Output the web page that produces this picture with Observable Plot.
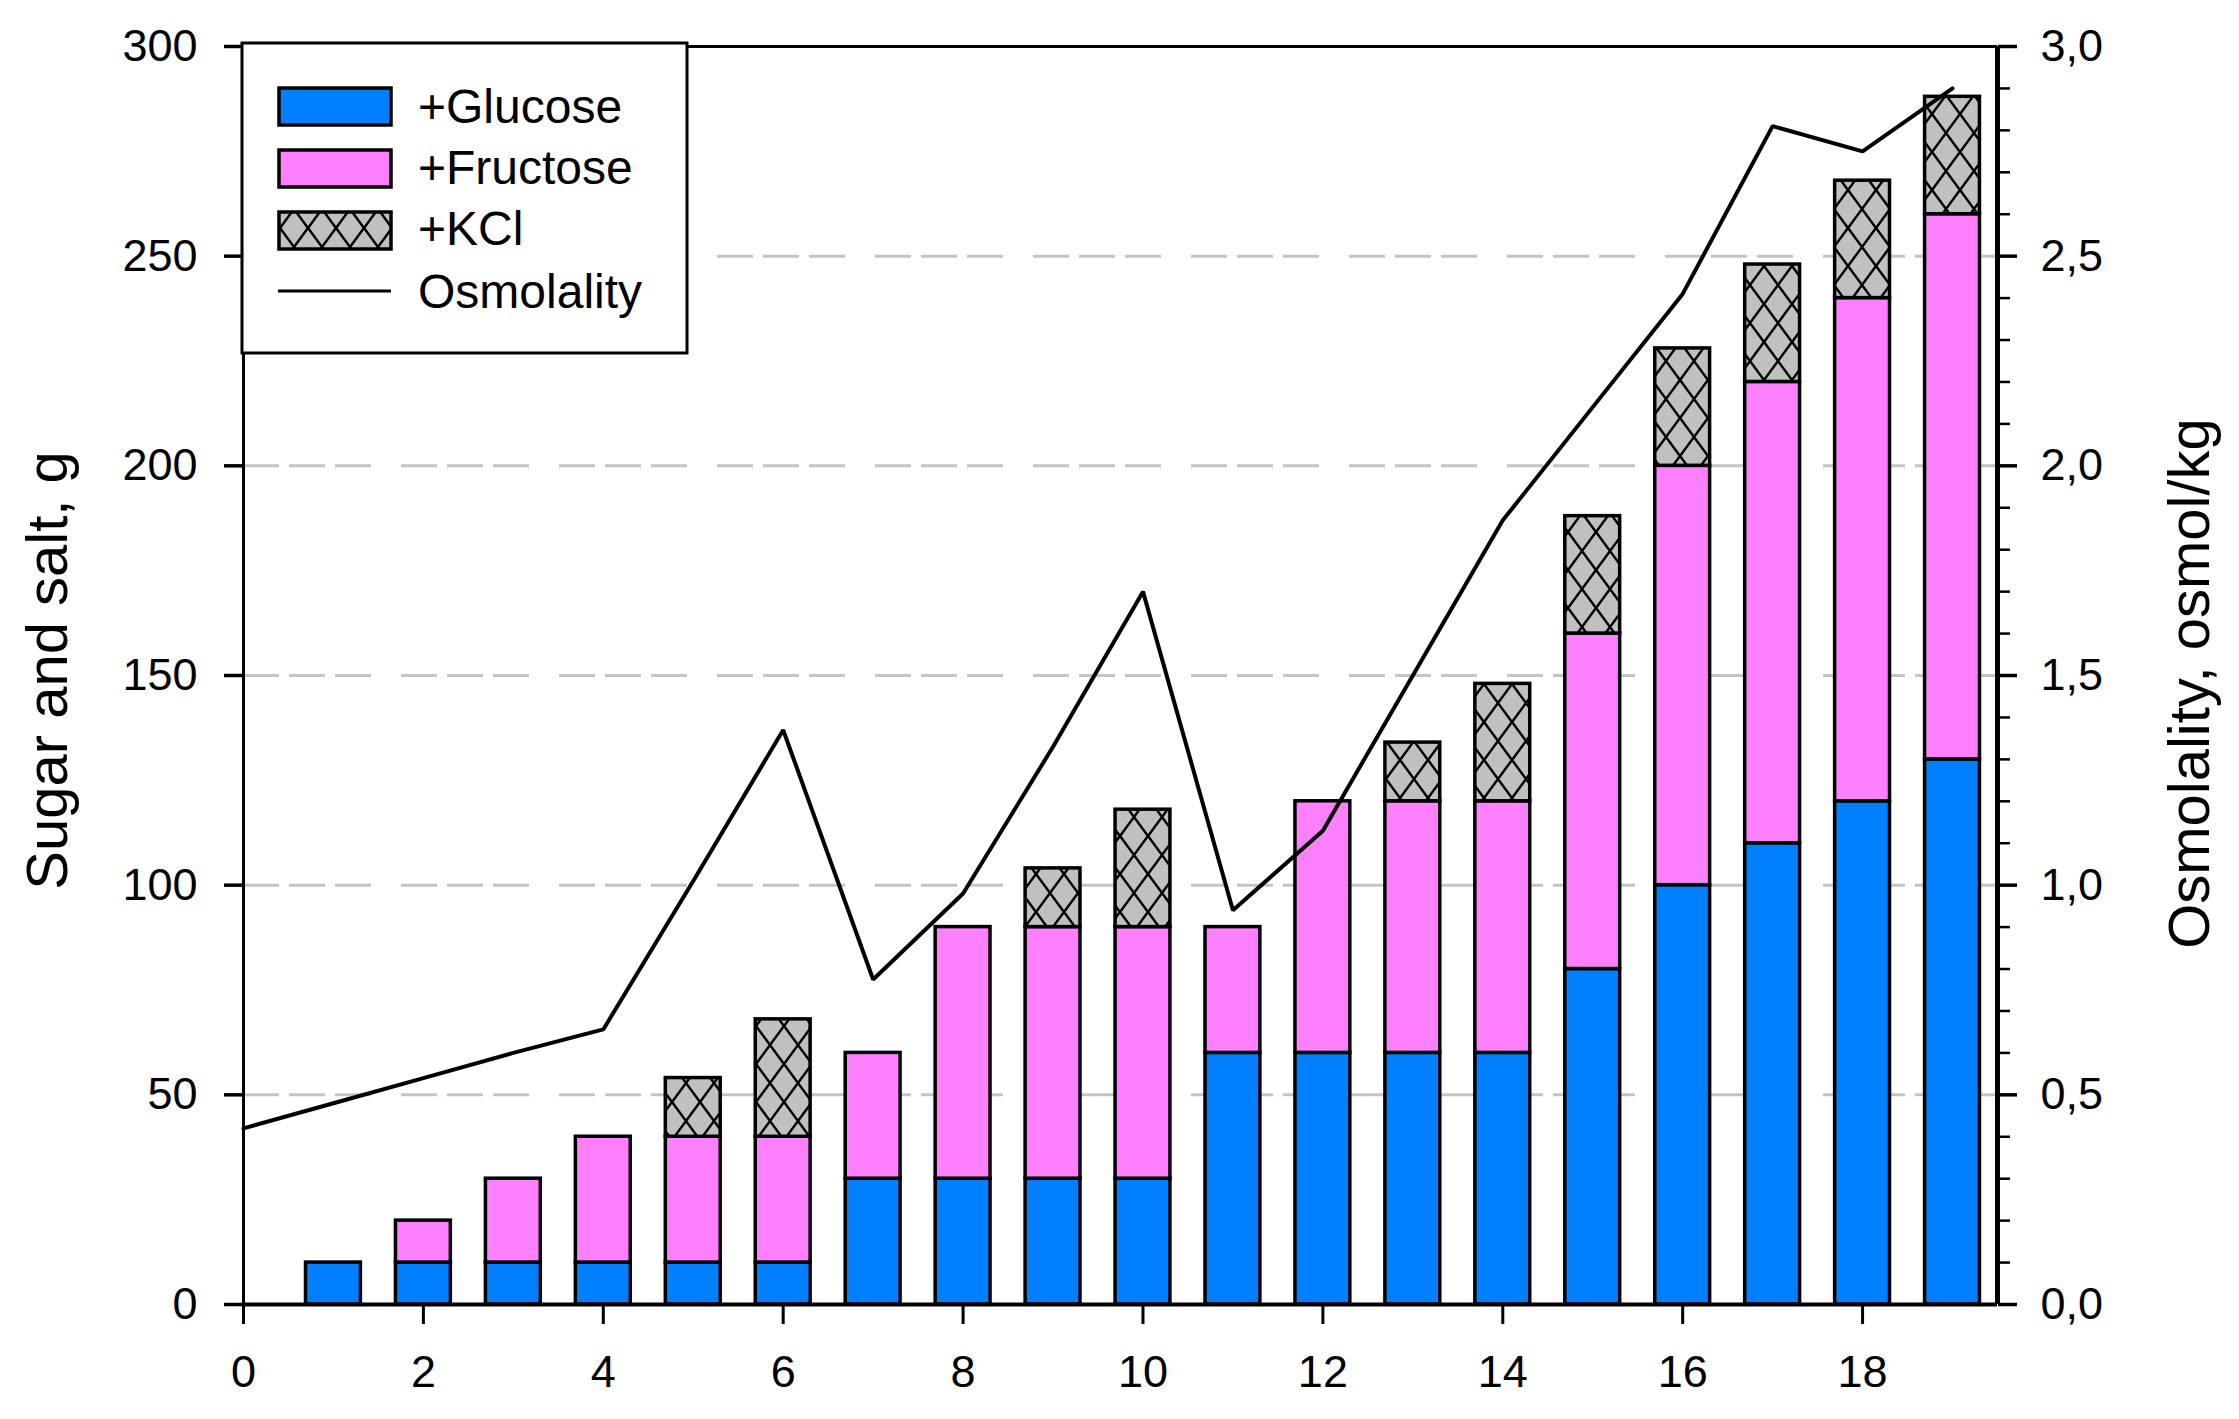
<!DOCTYPE html>
<html>
<head>
<meta charset="utf-8">
<script src="https://cdn.jsdelivr.net/npm/d3@7"></script>
<script src="https://cdn.jsdelivr.net/npm/@observablehq/plot@0.6"></script>
<style>
  html, body { margin: 0; padding: 0; background: #fff; }
  #chart { width: 2239px; height: 1419px; }
</style>
</head>
<body>
<div id="chart"></div>
<script>
// ---- data ----
const steps      = [1, 2, 3, 4, 5, 6, 7, 8, 9, 10, 11, 12, 13, 14, 15, 16, 17, 18, 19];
const glucose    = [10, 10, 10, 10, 10, 10, 30, 30, 30, 30, 60, 60, 60, 60, 80, 100, 110, 120, 130];
const fructose   = [0, 10, 20, 30, 30, 30, 30, 60, 60, 60, 30, 60, 60, 60, 80, 100, 110, 120, 130];
const kcl        = [0, 0, 0, 0, 14, 28, 0, 0, 14, 28, 0, 0, 14, 28, 28, 28, 28, 28, 28];
const osmSteps   = [0, 1, 2, 3, 4, 5, 6, 7, 8, 9, 10, 11, 12, 13, 14, 15, 16, 17, 18, 19];
const osmolality = [0.42, 0.48, 0.54, 0.60, 0.656, 1.01, 1.37, 0.775, 0.98, 1.33, 1.70, 0.94, 1.13, 1.50, 1.87, 2.14, 2.41, 2.81, 2.75, 2.90];

const seriesNames  = ["+Glucose", "+Fructose", "+KCl"];
const seriesColors = ["#0080ff", "#ff80ff", "url(#kclHatch)"];

const xTicks        = [0, 2, 4, 6, 8, 10, 12, 14, 16, 18];
const leftTicks     = [0, 50, 100, 150, 200, 250, 300];
const gridValues    = [50, 100, 150, 200, 250];
const osmTicks      = [0, 0.5, 1.0, 1.5, 2.0, 2.5, 3.0];
const osmMinorTicks = [0.1, 0.2, 0.3, 0.4, 0.6, 0.7, 0.8, 0.9, 1.1, 1.2, 1.3, 1.4, 1.6, 1.7, 1.8, 1.9, 2.1, 2.2, 2.3, 2.4, 2.6, 2.7, 2.8, 2.9];
const osmScale = 100; // right axis (0–3) mapped onto left axis (0–300)

// ---- tables built from the arrays ----
const rows = [];
[glucose, fructose, kcl].forEach((vals, s) => {
  steps.forEach((step, i) => rows.push({step, series: seriesNames[s], value: vals[i]}));
});
const osmRows = osmSteps.map((x, i) => ({x, v: osmolality[i]}));

const FONT = '"Liberation Sans", Arial, Helvetica, sans-serif';
const halfBar = 0.305;

const chart = Plot.plot({
  width: 2239,
  height: 1419,
  marginTop: 46,
  marginRight: 242,
  marginBottom: 115,
  marginLeft: 243,
  style: {fontFamily: FONT, background: "white", color: "black"},
  x: {type: "linear", domain: [0, 19.5]},
  y: {domain: [0, 300]},
  color: {domain: seriesNames, range: seriesColors},
  marks: [
    Plot.ruleY(gridValues, {stroke: "#c4c4c4", strokeWidth: 3, strokeDasharray: "36,10,36,10,36,30"}),
    Plot.rectY(rows, Plot.stackY({
      x1: d => d.step - halfBar,
      x2: d => d.step + halfBar,
      y: "value",
      fill: "series",
      stroke: "black",
      strokeWidth: 3.5
    })),
    Plot.line(osmRows, {x: "x", y: d => d.v * osmScale, stroke: "black", strokeWidth: 4, strokeLinejoin: "miter"}),
    Plot.ruleX([0], {strokeWidth: 3}),
    Plot.ruleX([19.5], {strokeWidth: 5}),
    Plot.ruleY([300], {strokeWidth: 3}),
    Plot.ruleY([0], {strokeWidth: 4}),
    Plot.axisX(xTicks, {tickSize: 20, tickPadding: 31, fontSize: 45, strokeWidth: 3, label: null}),
    Plot.axisY(leftTicks, {anchor: "left", tickSize: 19, tickPadding: 27, fontSize: 45, strokeWidth: 3.5, label: null}),
    Plot.axisY(osmTicks.map(v => v * osmScale), {anchor: "right", tickSize: 19, tickPadding: 24, fontSize: 45, strokeWidth: 3.5, label: null,
      tickFormat: d => (d / osmScale).toFixed(1).replace(".", ",")}),
    Plot.axisY(osmMinorTicks.map(v => v * osmScale), {anchor: "right", tickSize: 12, strokeWidth: 2.5, label: null, tickFormat: () => ""}),
    Plot.text(["Sugar and salt, g"], {text: d => d, frameAnchor: "left", textAnchor: "middle", rotate: -90, dx: -195, dy: -5, fontSize: 58, lineAnchor: "middle", fill: "black"}),
    Plot.text(["Osmolality, osmol/kg"], {text: d => d, frameAnchor: "right", textAnchor: "middle", rotate: -90, dx: 193, dy: 8, fontSize: 58, lineAnchor: "middle", fill: "black"})
  ]
});

document.getElementById("chart").appendChild(chart);

// ---- hatch pattern for KCl ----
const svg = d3.select(chart);
const defs = svg.insert("defs", ":first-child");
function addHatch(id) {
  const p = defs.append("pattern").attr("id", id).attr("patternUnits", "userSpaceOnUse")
    .attr("width", 28).attr("height", 38);
  p.append("rect").attr("width", 28).attr("height", 38).attr("fill", "#c0c0c0");
  p.append("path").attr("d", "M0,0L28,38M28,0L0,38").attr("stroke", "black").attr("stroke-width", 2.5).attr("fill", "none");
}
addHatch("kclHatch");

// ---- legend ----
const lg = svg.append("g").attr("font-family", FONT).attr("text-anchor", "start");
lg.append("rect").attr("x", 242).attr("y", 43).attr("width", 445).attr("height", 310)
  .attr("fill", "white").attr("stroke", "black").attr("stroke-width", 3);
const swatchY = [88, 150, 212];
seriesNames.forEach((name, i) => {
  lg.append("rect").attr("x", 279).attr("y", swatchY[i]).attr("width", 112).attr("height", 37)
    .attr("fill", seriesColors[i]).attr("stroke", "black").attr("stroke-width", 3.5);
});
lg.append("line").attr("x1", 278).attr("x2", 391).attr("y1", 291).attr("y2", 291)
  .attr("stroke", "black").attr("stroke-width", 3);
const legendLabels = [...seriesNames, "Osmolality"];
const baselines = [123, 184, 245, 308];
legendLabels.forEach((t, i) => {
  lg.append("text").attr("x", 418).attr("y", baselines[i]).attr("font-size", 48)
    .attr("text-anchor", "start").attr("fill", "black").text(t);
});
</script>
</body>
</html>
